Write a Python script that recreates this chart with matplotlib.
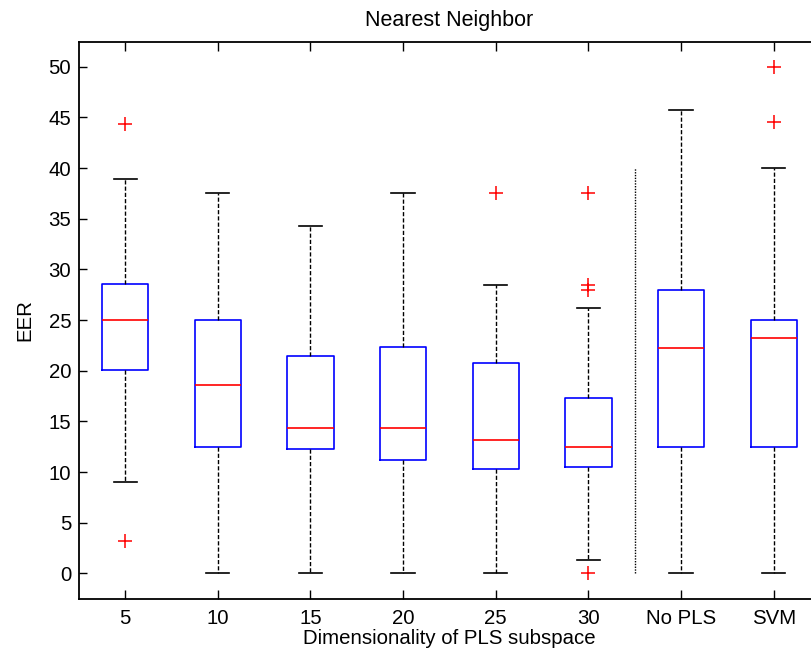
import matplotlib
matplotlib.use("Agg")
import matplotlib.pyplot as plt

plt.rcParams['font.family'] = ['Liberation Sans', 'DejaVu Sans']

# Boxplot summary statistics (EER, %) per configuration
labels = ['5', '10', '15', '20', '25', '30', 'No PLS', 'SVM']
medians = [25.0, 18.6, 14.35, 14.35, 13.15, 12.5, 22.25, 23.25]
q1 = [20.1, 12.5, 12.3, 11.15, 10.3, 10.45, 12.5, 12.5]
q3 = [28.55, 25.0, 21.45, 22.3, 20.75, 17.35, 28.0, 25.0]
whisker_lo = [9.0, 0.0, 0.0, 0.0, 0.0, 1.35, 0.0, 0.0]
whisker_hi = [38.9, 37.5, 34.25, 37.5, 28.5, 26.15, 45.75, 40.0]
outliers = [[44.4, 3.2], [], [], [], [37.5], [37.5, 28.5, 28.0, 0.0], [], [50.0, 44.55]]

# Separator between PLS dimensionalities and reference methods
sep_x = 6.5
sep_range = (0.0, 40.0)

stats = []
for i, lab in enumerate(labels):
    stats.append(dict(label=lab, med=medians[i], q1=q1[i], q3=q3[i],
                      whislo=whisker_lo[i], whishi=whisker_hi[i],
                      fliers=outliers[i]))

fig = plt.figure(figsize=(8.12, 6.56), dpi=100)
ax = fig.add_axes([0.0970, 0.0864, 0.9129, 0.8500])

ax.bxp(stats, positions=range(1, len(labels) + 1), widths=0.5,
       showfliers=True,
       boxprops=dict(color='#0000ff', linewidth=1.2),
       medianprops=dict(color='#ff0000', linewidth=1.2),
       whiskerprops=dict(color='black', linewidth=1.0, linestyle=(0, (3, 1.5))),
       capprops=dict(color='black', linewidth=1.2),
       flierprops=dict(marker='+', markeredgecolor='#ff0000', markersize=10,
                       markeredgewidth=1.1, linestyle='none'))

ax.plot([sep_x, sep_x], sep_range, color='black', linestyle=(0, (1, 1)),
        linewidth=1.0)

ax.set_xlim(0.5, 8.5)
ax.set_ylim(-2.57, 52.48)
ax.set_yticks(range(0, 51, 5))
ax.set_xticks(range(1, len(labels) + 1))
ax.set_xticklabels(labels)

for sp in ax.spines.values():
    sp.set_linewidth(1.3)

ax.tick_params(axis='x', direction='in', top=True, length=6.5, width=1.0,
               pad=7, labelsize=14.7)
ax.tick_params(axis='y', direction='in', right=True, length=5.5, width=1.0,
               pad=5.5, labelsize=14.7)

ax.set_title('Nearest Neighbor', fontsize=15.5, pad=11)
ax.set_xlabel('Dimensionality of PLS subspace', fontsize=14.7, labelpad=1)
ax.set_ylabel('EER', fontsize=14.7, labelpad=10)

fig.savefig('out.png', dpi=100)
